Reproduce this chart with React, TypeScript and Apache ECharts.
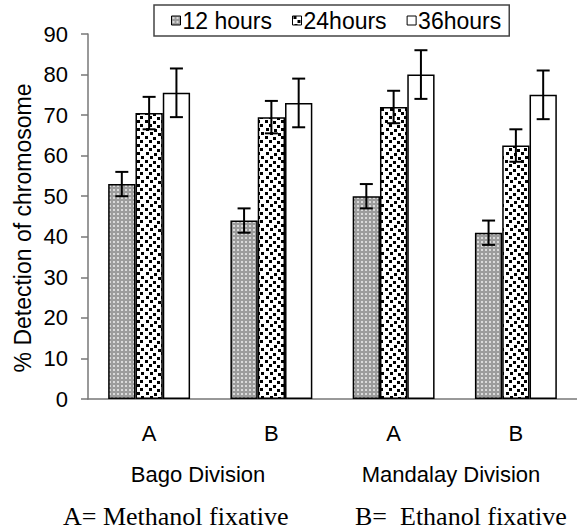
import React, { useEffect, useRef } from "react";
import * as echarts from "echarts";

const categories = ["A", "B", "A", "B"];
const groupNames = ["Bago Division", "Mandalay Division"];
const seriesNames = ["12 hours", "24hours", "36hours"];
const hours12 = [53, 44, 50, 41];
const hours24 = [70.5, 69.5, 72, 62.5];
const hours36 = [75.5, 73, 80, 75];
const err12 = [3, 3, 3, 3];
const err24 = [4, 4, 4, 4];
const err36 = [6, 6, 6, 6];
const yTitle = "% Detection of chromosome";
const footnotes = ["A= Methanol fixative", "B=  Ethanol fixative"];

const SANS = "'Liberation Sans', Arial, sans-serif";
const SERIF = "'Liberation Serif', 'Times New Roman', serif";
const CAT_GAP = 0.33;

function greyPattern() {
  const c = document.createElement("canvas");
  c.width = 4;
  c.height = 4;
  const g = c.getContext("2d")!;
  g.fillStyle = "#9c9c9c";
  g.fillRect(0, 0, 4, 4);
  g.fillStyle = "#dadada";
  g.fillRect(1, 1, 2, 2);
  return { image: c, repeat: "repeat", imageWidth: 4, imageHeight: 4 };
}

function dotPattern() {
  const c = document.createElement("canvas");
  const S = 24;
  c.width = S;
  c.height = S;
  const g = c.getContext("2d")!;
  g.fillStyle = "#ffffff";
  g.fillRect(0, 0, S, S);
  g.fillStyle = "#000000";
  const pts = [
    [1, 0], [9, 1], [17, 0],
    [5, 4], [13, 5], [20, 4],
    [2, 8], [10, 9], [17, 8],
    [6, 12], [14, 13], [21, 12],
    [1, 16], [9, 17], [17, 16],
    [5, 20], [13, 21], [20, 20],
  ];
  pts.forEach(([x, y]) => g.fillRect(x, y, 3, 3));
  return { image: c, repeat: "repeat", imageWidth: S, imageHeight: S };
}

export default function App() {
  const ref = useRef<HTMLDivElement>(null);
  useEffect(() => {
    if (!ref.current) return;
    const chart = echarts.init(ref.current, null, { renderer: "svg" });
    const fills = [greyPattern(), dotPattern(), "#ffffff"];
    const values = [hours12, hours24, hours36];
    const errs = [err12, err24, err36];

    const barSeries = seriesNames.map((name, i) => ({
      name,
      type: "bar",
      data: values[i],
      barGap: "0%",
      barCategoryGap: CAT_GAP * 100 + "%",
      itemStyle: { color: fills[i] as any, borderColor: "#000", borderWidth: 1.5 },
      z: 2,
    }));

    const errSeries = seriesNames.map((name, i) => ({
      name: name + " err",
      type: "custom",
      z: 5,
      data: values[i].map((v, k) => [k, v, errs[i][k]]),
      renderItem: (params: any, api: any) => {
        const x = api.value(0);
        const v = api.value(1);
        const e = api.value(2);
        const catW = api.size([1, 0])[0];
        const barW = (catW * (1 - CAT_GAP)) / 3;
        const off = (i - 1) * barW;
        const top = api.coord([x, v + e]);
        const bot = api.coord([x, v - e]);
        const cx = top[0] + off;
        const hw = 6.5;
        const st = { stroke: "#000", lineWidth: 2 };
        return {
          type: "group",
          children: [
            { type: "line", shape: { x1: cx, y1: top[1], x2: cx, y2: bot[1] }, style: st },
            { type: "line", shape: { x1: cx - hw, y1: top[1], x2: cx + hw, y2: top[1] }, style: st },
            { type: "line", shape: { x1: cx - hw, y1: bot[1], x2: cx + hw, y2: bot[1] }, style: st },
          ],
        };
      },
    }));

    chart.setOption({
      animation: false,
      grid: { left: 88, right: -6, top: 34, bottom: 130, containLabel: false },
      legend: {
        data: seriesNames,
        left: 154,
        top: 5,
        selectedMode: false,
        icon: "rect",
        itemWidth: 9,
        itemHeight: 9,
        itemGap: 20,
        padding: [4, 8, 4, 17],
        borderColor: "#444",
        borderWidth: 1.5,
        textStyle: { fontFamily: SANS, fontSize: 23, color: "#000", padding: [0, 0, 0, -3] },
        itemStyle: { borderColor: "#000", borderWidth: 1 },
      },
      xAxis: {
        type: "category",
        data: categories,
        axisLine: { lineStyle: { color: "#777", width: 1.5 } },
        axisTick: { length: 6, lineStyle: { color: "#777", width: 1.5 } },
        axisLabel: { fontFamily: SANS, fontSize: 22, color: "#000", margin: 23 },
      },
      yAxis: {
        type: "value",
        min: 0,
        max: 90,
        interval: 10,
        splitLine: { show: false },
        axisLine: { show: true, lineStyle: { color: "#777", width: 1.5 } },
        axisTick: { show: true, length: 7, lineStyle: { color: "#777", width: 1.5 } },
        axisLabel: { fontFamily: SANS, fontSize: 22, color: "#000", margin: 20 },
      },
      graphic: [
        {
          type: "text",
          x: 23,
          y: 228,
          rotation: Math.PI / 2,
          style: { text: yTitle, fontFamily: SANS, fontSize: 23, fill: "#000", align: "center", verticalAlign: "middle" },
        },
        {
          type: "text",
          x: 198,
          y: 474,
          style: { text: groupNames[0], fontFamily: SANS, fontSize: 22, fill: "#000", align: "center", verticalAlign: "middle" },
        },
        {
          type: "text",
          x: 451,
          y: 474,
          style: { text: groupNames[1], fontFamily: SANS, fontSize: 22, fill: "#000", align: "center", verticalAlign: "middle" },
        },
        {
          type: "text",
          x: 63,
          y: 516,
          style: { text: footnotes[0], fontFamily: SERIF, fontSize: 26, fill: "#000", align: "left", verticalAlign: "middle" },
        },
        {
          type: "text",
          x: 355,
          y: 516,
          style: { text: footnotes[1], fontFamily: SERIF, fontSize: 26, fill: "#000", align: "left", verticalAlign: "middle" },
        },
      ],
      series: [...barSeries, ...errSeries],
    } as any);
    return () => chart.dispose();
  }, []);
  return (
    <div
      ref={ref}
      style={{ position: "absolute", left: 0, top: 0, width: 577, height: 529, overflow: "hidden" }}
    />
  );
}
